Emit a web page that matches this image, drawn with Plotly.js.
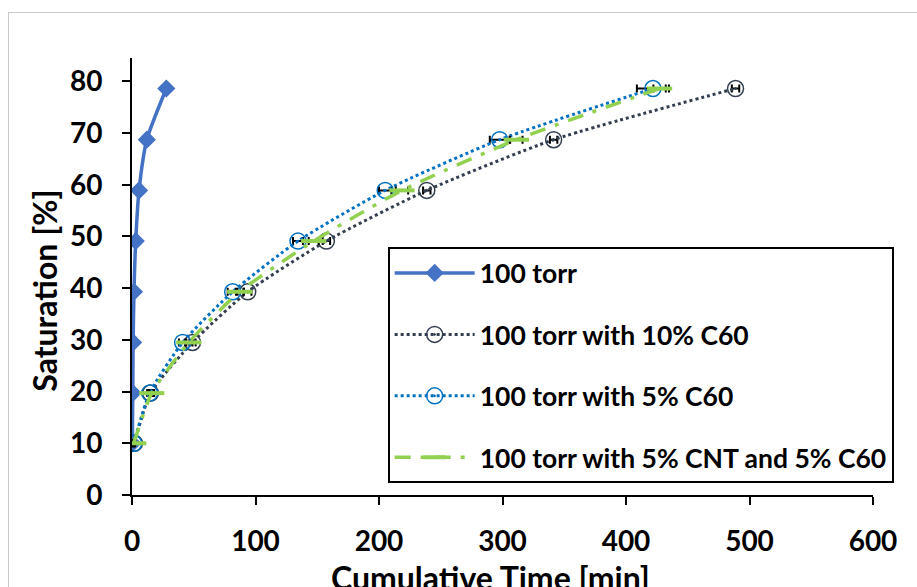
<!DOCTYPE html>
<html><head><meta charset="utf-8">
<script src="https://cdn.plot.ly/plotly-3.0.1.min.js"></script>
<style>
html,body{margin:0;padding:0;background:#fff;overflow:hidden;width:917px;height:587px;}
#chart{position:absolute;left:0;top:0;width:917px;height:587px;}
#frame{position:absolute;left:8px;top:12px;width:1000px;height:700px;border:1px solid #c8c8c8;pointer-events:none;}
</style></head><body>
<div id="chart"></div><div id="frame"></div>
<script>
// Saturation levels [%]
const saturation = [10, 19.7, 29.5, 39.3, 49.1, 58.9, 68.7, 78.6];
// Cumulative time [min] per series
const time100 = [0.3, 0.6, 0.9, 1.6, 3, 5.7, 12, 27.8];
const time10C60 = [2, 15, 49, 93.7, 157.4, 238.7, 341.4, 488.7];
const time5C60 = [1.4, 14.3, 41, 81.5, 134.4, 205, 297.7, 421.8];
const time5CNT5C60 = [1.4, 16, 46, 87.2, 147.1, 218.6, 311.2, 427.2];
// Horizontal error bars [min]
const err10C60 = [0.5, 2, 2.5, 3, 3, 3, 3, 3];
const err5C60 = [0.5, 2, 3, 4, 4, 5, 8, 13];
const err5CNT5C60 = [0.5, 2, 3, 3, 4, 5, 5, 5];
const seriesNames = ['100 torr', '100 torr with 10% C60', '100 torr with 5% C60', '100 torr with 5% CNT and 5% C60'];
const xTitle = 'Cumulative Time [min]';
const yTitle = 'Saturation [%]';

const FONT = 'Lato, "Open Sans", sans-serif';
const errStyle = arr => ({type: 'data', array: arr, visible: true, color: '#000', thickness: 2, width: 4});

const traces = [
  {x: time100, y: saturation, name: seriesNames[0], legendgroup: 'a', mode: 'lines+markers',
   line: {color: '#4472C4', width: 3.5, shape: 'spline', smoothing: 0.6},
   marker: {symbol: 'diamond', size: 14, color: '#4472C4'}},
  {x: time10C60, y: saturation, name: seriesNames[1], legendgroup: 'b', mode: 'lines+markers',
   line: {color: '#333F50', width: 3, dash: 'dot', shape: 'spline', smoothing: 0.6},
   marker: {symbol: 'circle-open-dot', size: 16, color: '#333F50', line: {color: '#333F50', width: 1.5}},
   error_x: errStyle(err10C60)},
  {x: time5C60, y: saturation, name: seriesNames[2], legendgroup: 'c', mode: 'lines+markers',
   line: {color: '#0070C0', width: 3, dash: 'dot', shape: 'spline', smoothing: 0.6},
   marker: {symbol: 'circle-open-dot', size: 16, color: '#0070C0', line: {color: '#0070C0', width: 1.5}},
   error_x: errStyle(err5C60)},
  {x: time5CNT5C60, y: saturation, name: seriesNames[3], legendgroup: 'd', mode: 'lines+markers',
   line: {color: '#92D050', width: 3.5, dash: '16px,10px,4px,10px', shape: 'spline', smoothing: 0.6},
   marker: {symbol: 'line-ew', size: 18, color: '#92D050', line: {color: '#92D050', width: 4}},
   error_x: errStyle(err5CNT5C60)}
];

const axisCommon = {
  showline: true, linecolor: '#000', linewidth: 2, mirror: false,
  ticks: 'outside', ticklen: 8, tickwidth: 2, tickcolor: '#000',
  showgrid: false, zeroline: false,
  tickfont: {family: FONT, size: 28, weight: 700, color: '#000'}
};
const titleFont = {family: FONT, size: 32, weight: 700, color: '#000'};

const layout = {
  width: 917, height: 587,
  margin: {l: 132.3, r: 43.5, t: 57.7, b: 92, pad: 0},
  paper_bgcolor: 'rgba(0,0,0,0)', plot_bgcolor: 'rgba(0,0,0,0)',
  showlegend: true,
  xaxis: Object.assign({}, axisCommon, {
    range: [0, 600], tick0: 0, dtick: 100, ticklabelstandoff: 12
  }),
  yaxis: Object.assign({}, axisCommon, {
    range: [0, 84.5], tick0: 0, dtick: 10, ticklabelstandoff: 14
  }),
  annotations: [
    {text: xTitle, xref: 'paper', yref: 'paper', x: 0.484, y: -0.14, xanchor: 'center', yanchor: 'top',
     showarrow: false, font: titleFont},
    {text: yTitle, xref: 'paper', yref: 'paper', x: -0.118, y: 0.4665, xanchor: 'center', yanchor: 'middle',
     textangle: -90, showarrow: false, font: titleFont}
  ],
  legend: {
    x: 0.345, y: 0.567, xanchor: 'left', yanchor: 'top',
    bgcolor: '#fff', bordercolor: '#000', borderwidth: 2,
    font: {family: FONT, size: 26.5, weight: 700, color: '#000'},
    itemwidth: 80, tracegroupgap: 24
  }
};

Plotly.newPlot('chart', traces, layout, {displayModeBar: false, staticPlot: true});
</script>
</body></html>
